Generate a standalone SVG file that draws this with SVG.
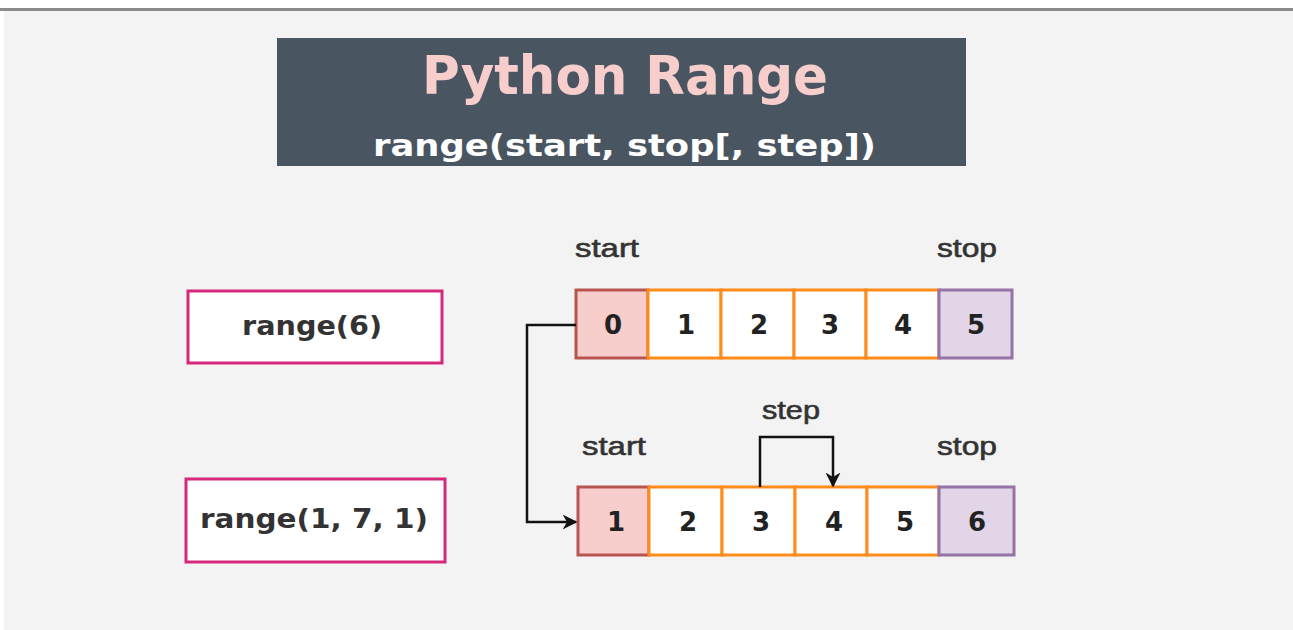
<svg xmlns="http://www.w3.org/2000/svg" width="1293" height="630" viewBox="0 0 1293 630">
<defs>
<style>
.lbl{font-family:"Liberation Sans",Arial,sans-serif;font-size:26px;fill:#333;stroke:#333;stroke-width:0.6}
.num{font-family:"DejaVu Sans",Verdana,sans-serif;font-size:26px;font-weight:bold;fill:#222;text-anchor:middle}
.call{font-family:"DejaVu Sans",Verdana,sans-serif;font-size:26px;font-weight:bold;fill:#333}
.fn{fill:#fff;stroke:#d6287a;stroke-width:3}
.first{fill:#f8cecc;stroke:#b85450;stroke-width:3}
.mid{fill:#fff;stroke:#ff8c1a;stroke-width:3}
.last{fill:#e1d5e7;stroke:#9673a6;stroke-width:3}
.conn{fill:none;stroke:#111;stroke-width:2.5}
</style>
<marker id="arr" viewBox="0 0 10 10" refX="9" refY="5" markerWidth="15" markerHeight="15" markerUnits="userSpaceOnUse" orient="auto">
<path d="M0,0 L10,5 L0,10 L3,5 Z" fill="#111"/>
</marker>
</defs>
<rect x="0" y="0" width="1293" height="630" fill="#fff"/>
<rect x="4" y="10" width="1289" height="620" fill="#f3f3f3"/>
<rect x="0" y="8" width="1293" height="3" fill="#8a8a8a"/>

<g id="title">
<rect x="277" y="38" width="689" height="128" fill="#4a5562"/>
<text x="422" y="94" font-family="DejaVu Sans,Verdana,sans-serif" font-size="54" font-weight="bold" fill="#f8cecc" textLength="406" lengthAdjust="spacingAndGlyphs">Python Range</text>
<text x="373" y="156" font-family="DejaVu Sans,Verdana,sans-serif" font-size="31" font-weight="bold" fill="#fff" textLength="503" lengthAdjust="spacingAndGlyphs">range(start, stop[, step])</text>
</g>

<g id="range6">
<rect class="fn" x="188" y="291" width="254" height="72"/>
<text class="call" x="242" y="335" textLength="140" lengthAdjust="spacingAndGlyphs">range(6)</text>
</g>
<g id="range171">
<rect class="fn" x="186" y="479" width="259" height="83"/>
<text class="call" x="200" y="528" textLength="228" lengthAdjust="spacingAndGlyphs">range(1, 7, 1)</text>
</g>

<g id="labels">
<text class="lbl" x="575" y="257" textLength="64" lengthAdjust="spacingAndGlyphs">start</text>
<text class="lbl" x="937" y="257" textLength="60" lengthAdjust="spacingAndGlyphs">stop</text>
<text class="lbl" x="582" y="455" textLength="64" lengthAdjust="spacingAndGlyphs">start</text>
<text class="lbl" x="937" y="455" textLength="60" lengthAdjust="spacingAndGlyphs">stop</text>
<text class="lbl" x="762" y="419" textLength="58" lengthAdjust="spacingAndGlyphs">step</text>
</g>

<g id="array1">
<rect class="first" x="576" y="290" width="72" height="68"/>
<rect class="mid" x="648" y="290" width="73" height="68"/>
<rect class="mid" x="721" y="290" width="73" height="68"/>
<rect class="mid" x="794" y="290" width="72" height="68"/>
<rect class="mid" x="866" y="290" width="73" height="68"/>
<rect class="last" x="939" y="290" width="73" height="68"/>
<text class="num" x="613" y="334">0</text>
<text class="num" x="686" y="334">1</text>
<text class="num" x="759" y="334">2</text>
<text class="num" x="830" y="334">3</text>
<text class="num" x="903" y="334">4</text>
<text class="num" x="976" y="334">5</text>
</g>

<g id="array2">
<rect class="first" x="578" y="487" width="71" height="68"/>
<rect class="mid" x="649" y="487" width="73" height="68"/>
<rect class="mid" x="722" y="487" width="73" height="68"/>
<rect class="mid" x="795" y="487" width="72" height="68"/>
<rect class="mid" x="867" y="487" width="72" height="68"/>
<rect class="last" x="939" y="487" width="75" height="68"/>
<text class="num" x="616" y="531">1</text>
<text class="num" x="688" y="531">2</text>
<text class="num" x="761" y="531">3</text>
<text class="num" x="834" y="531">4</text>
<text class="num" x="905" y="531">5</text>
<text class="num" x="977" y="531">6</text>
</g>

<g id="connectors">
<path class="conn" d="M576,325 H527 V522 H576" marker-end="url(#arr)"/>
<path class="conn" d="M760,487 V437 H833 V486" marker-end="url(#arr)"/>
</g>
</svg>
